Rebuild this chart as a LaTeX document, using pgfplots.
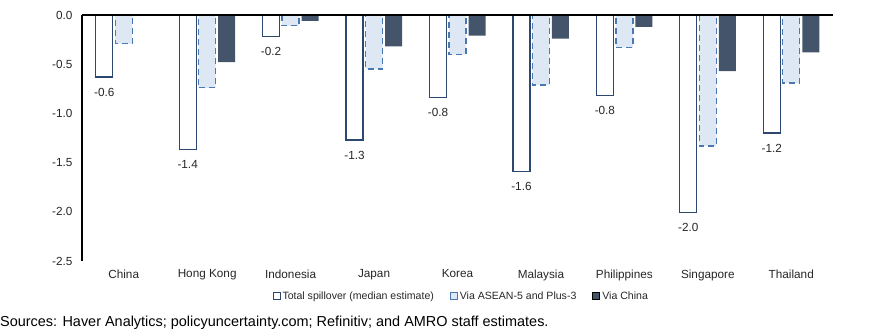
\documentclass[border=0pt]{standalone}
\usepackage{pgfplots}
\pgfplotsset{compat=1.18}
\usepackage{fontspec}
\setmainfont{Liberation Sans}
\definecolor{navy}{HTML}{44546A}
\definecolor{totb}{HTML}{2C4770}
\definecolor{asfill}{HTML}{DDE8F4}
\definecolor{asb}{HTML}{4A78B2}
\begin{document}
\begin{tikzpicture}
\useasboundingbox (0,0) rectangle (885bp,333bp);
\begin{axis}[
  at={(82bp,72bp)}, anchor=south west,
  scale only axis, width=751bp, height=246bp,
  ymin=-2.5, ymax=0, xmin=-0.5, xmax=8.5,
  ytick={-2.5,-2,-1.5,-1,-0.5,0},
  yticklabel style={/pgf/number format/fixed,/pgf/number format/fixed zerofill,/pgf/number format/precision=1, font=\fontsize{11.8}{13}\selectfont, xshift=-6bp, text=black!85},
  xtick={0,...,8},
  xticklabels={China,Hong Kong,Indonesia,Japan,Korea,Malaysia,Philippines,Singapore,Thailand},
  xticklabel style={font=\fontsize{11.8}{13}\selectfont, yshift=-5bp, text=black!85},
  /pgf/number format/assume math mode=true,
  major tick length=0pt,
  axis line style={draw=none},
  clip=false,
  ybar=2.5bp, bar width=17bp,
  legend columns=3,
  legend style={draw=none, fill=none, at={(0.505,-0.142)}, anchor=center,
    font=\fontsize{10.6}{12}\selectfont, text=black!85,
    /tikz/every even column/.append style={column sep=14bp}},
  legend image code/.code={\draw[#1,/tikz/line width=0.9bp,/tikz/solid] (0bp,-3.5bp) rectangle (7bp,3.5bp);},
]
\addplot[draw=totb, fill=white, line width=1.3bp,
  nodes near coords, point meta=explicit,
  every node near coord/.append style={font=\fontsize{11.8}{13}\selectfont, text=black!85, yshift=-7bp,
    /pgf/number format/fixed,/pgf/number format/fixed zerofill,/pgf/number format/precision=1},
] coordinates {
(0,-0.63) [-0.6]
(1,-1.37) [-1.4]
(2,-0.22) [-0.2]
(3,-1.27) [-1.3]
(4,-0.84) [-0.8]
(5,-1.59) [-1.6]
(6,-0.82) [-0.8]
(7,-2.01) [-2.0]
(8,-1.20) [-1.2]
};
\addlegendentry{Total spillover (median estimate)}
\addplot[draw=asb, fill=asfill, line width=1.3bp, dash pattern=on 6bp off 4bp] coordinates {
(0,-0.29) (1,-0.74) (2,-0.11) (3,-0.55) (4,-0.40) (5,-0.71) (6,-0.33) (7,-1.33) (8,-0.69)
};
\addlegendentry{Via ASEAN-5 and Plus-3}
\addplot[draw=none, fill=navy] coordinates {
(0,0) (1,-0.48) (2,-0.06) (3,-0.32) (4,-0.21) (5,-0.24) (6,-0.12) (7,-0.57) (8,-0.38)
};
\addlegendentry{Via China}
\draw[black, line width=1.3bp] (rel axis cs:0,0) -- (rel axis cs:0,1);
\draw[black, line width=1.8bp] (rel axis cs:0,1) -- (rel axis cs:1,1);
\end{axis}
\node[anchor=base west, inner sep=0pt, font=\fontsize{14.5}{16}\selectfont] at (0bp,7bp) {Sources: Haver Analytics; policyuncertainty.com; Refinitiv; and AMRO staff estimates.};
\end{tikzpicture}
\end{document}
